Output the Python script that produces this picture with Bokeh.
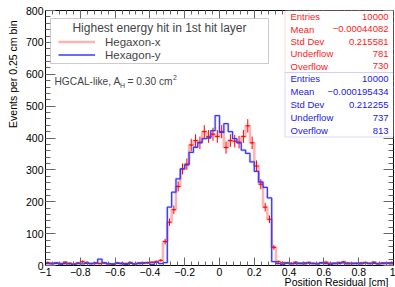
import numpy as np
from bokeh.plotting import figure
from bokeh.models import (Range1d, FixedTicker, LinearAxis, Label, BoxAnnotation,
                          Legend, LegendItem, Title)
from bokeh.embed import file_html
from bokeh.resources import INLINE

# ---------------- data ----------------
x_min, x_max = -1.0, 1.0
bin_width = 0.025

red_name = "Hegaxon-x"
blue_name = "Hexagon-y"

red_counts = [9, 7, 8, 6, 10, 7, 5, 8, 12, 9, 6, 7, 6, 8, 5, 4, 8, 7, 6, 9, 5, 8, 7, 9, 10, 12, 16,
              75, 136, 175, 248, 303, 318, 378, 392, 385, 420, 405, 412, 405, 420, 370, 392, 390,
              387, 405, 438, 385, 312, 255, 183, 145, 57,
              12, 9, 8, 7, 10, 6, 8, 9, 7, 6, 8, 10, 7, 6, 9, 11, 8, 7, 6, 8, 9, 7, 10, 6, 8, 7, 9]

blue_counts = [6, 5, 7, 4, 6, 5, 3, 6, 5, 7, 6, 8, 20, 8, 6, 5, 7, 6, 4, 7, 5, 6, 9, 8, 3, 10, 6, 9,
               183, 230, 272, 303, 316, 355, 371, 386, 398, 400, 423, 470, 418, 445, 420, 398,
               385, 362, 352, 325, 295, 262, 245, 212,
               12, 6, 4, 8, 5, 6, 7, 5, 8, 6, 5, 9, 6, 4, 7, 6, 8, 5, 6, 7, 5, 8, 6, 7, 5, 6, 8, 5]

red_stats = [("Entries", "10000"), ("Mean", "\u22120.00044082"), ("Std Dev", "0.215581"),
             ("Underflow", "781"), ("Overflow", "730")]
blue_stats = [("Entries", "10000"), ("Mean", "\u22120.000195434"), ("Std Dev", "0.212255"),
              ("Underflow", "737"), ("Overflow", "813")]

x_ticks = [-1, -0.8, -0.6, -0.4, -0.2, 0, 0.2, 0.4, 0.6, 0.8, 1]
x_tick_labels = ["\u22121", "\u22120.8", "\u22120.6", "\u22120.4", "\u22120.2", "0",
                 "0.2", "0.4", "0.6", "0.8", "1"]
y_ticks = [0, 100, 200, 300, 400, 500, 600, 700, 800]
y_tick_labels = ["0", "100", "200", "300", "400", "500", "600", "700", "800"]
x_minor = [round(-1 + 0.04 * i, 3) for i in range(51)]
y_minor = [20 * i for i in range(41)]

x_title = "Position Residual [cm]"
y_title = "Events per 0.25 cm bin"
legend_title = "Highest energy hit in 1st hit layer"

# ---------------- figure ----------------
FONT = "Liberation Sans"
RED = "#ff0000"
BLUE = "#3838ff"

p = figure(width=395, height=287, output_backend="svg", toolbar_location=None,
           x_range=Range1d(x_min, x_max), y_range=Range1d(0, 800),
           min_border_left=45, min_border_right=2, min_border_top=10, min_border_bottom=22)
p.grid.visible = False
p.outline_line_color = "#000000"
p.background_fill_color = "white"
p.border_fill_color = "white"

red = np.array(red_counts, dtype=float)
blue = np.array(blue_counts, dtype=float)
edges = x_min + bin_width * np.arange(len(red) + 1)
lefts, rights = edges[:-1], edges[1:]
centers = 0.5 * (lefts + rights)

red_y = np.append(red, red[-1])
blue_y = np.append(blue, blue[-1])

# red histogram (light line + error crosses)
r_step = p.step(edges, red_y, mode="after", line_color=RED, line_alpha=0.3, line_width=2.5)
err = np.sqrt(red)
p.segment(x0=centers, y0=red - err, x1=centers, y1=red + err, line_color=RED, line_width=1)
p.segment(x0=lefts, y0=red, x1=rights, y1=red, line_color=RED, line_width=1)
# blue histogram
p.step(edges, blue_y, mode="after", line_color=BLUE, line_alpha=0.15, line_width=3)
b_step = p.step(edges, blue_y, mode="after", line_color=BLUE, line_width=1.3)

# ---------------- axes ----------------
def style_axis(ax, ticks, minor, labels, tick_in, show_labels=True):
    ax.ticker = FixedTicker(ticks=ticks, minor_ticks=minor)
    ax.axis_line_color = "#000000"
    ax.major_tick_in = tick_in
    ax.major_tick_out = 0
    ax.minor_tick_in = tick_in // 2
    ax.minor_tick_out = 0
    ax.major_tick_line_color = "#666666"
    ax.minor_tick_line_color = "#666666"
    if show_labels:
        ax.major_label_overrides = {t: l for t, l in zip(ticks, labels)}
        ax.major_label_text_font = FONT
        ax.major_label_text_font_size = "10.5px"
        ax.major_label_text_color = "#000000"
        ax.major_label_standoff = 2
    else:
        ax.major_label_text_font_size = "0px"
        ax.major_label_standoff = 0

xa = p.xaxis[0]
ya = p.yaxis[0]
style_axis(xa, x_ticks, x_minor, x_tick_labels, 8)
style_axis(ya, y_ticks, y_minor, y_tick_labels, 10)
top = LinearAxis()
style_axis(top, x_ticks, x_minor, x_tick_labels, 8, show_labels=False)
p.add_layout(top, "above")
right = LinearAxis()
style_axis(right, y_ticks, y_minor, y_tick_labels, 10, show_labels=False)
p.add_layout(right, "right")

# axis titles (right / top aligned, as in ROOT)
p.add_layout(Title(text=x_title, align="right", offset=5, standoff=-10,
                   text_font=FONT, text_font_size="10.5px", text_font_style="normal",
                   text_color="#000000"), "below")
p.add_layout(Title(text=y_title, align="right", offset=10, standoff=8,
                   text_font=FONT, text_font_size="10.5px", text_font_style="normal",
                   text_color="#000000"), "left")

# ---------------- legend ----------------
p.add_layout(BoxAnnotation(left=5, right=223, top=247, bottom=202,
                           left_units="screen", right_units="screen",
                           top_units="screen", bottom_units="screen",
                           fill_color="white", fill_alpha=1.0,
                           line_color="#555555", line_width=1))
p.add_layout(Label(x=114, y=238, x_units="screen", y_units="screen", text=legend_title,
                   text_align="center", text_baseline="middle", text_font=FONT,
                   text_font_size="12px"))
legend = Legend(items=[LegendItem(label=red_name, renderers=[r_step]),
                       LegendItem(label=blue_name, renderers=[b_step])],
                location=(13, 204), orientation="vertical",
                glyph_width=37, glyph_height=13, label_height=13, spacing=0,
                label_standoff=10, padding=0, margin=0,
                border_line_color=None, background_fill_alpha=0,
                label_text_font=FONT, label_text_font_size="11.5px",
                label_text_baseline="middle")
p.add_layout(legend, "center")

p.add_layout(Label(x=9, y=184, x_units="screen", y_units="screen",
                   text="HGCAL-like, A", text_baseline="middle",
                   text_font=FONT, text_font_size="10.2px"))
p.add_layout(Label(x=74.5, y=180.5, x_units="screen", y_units="screen",
                   text="H", text_baseline="middle",
                   text_font=FONT, text_font_size="7px"))
p.add_layout(Label(x=82, y=184, x_units="screen", y_units="screen",
                   text="= 0.30 cm", text_baseline="middle",
                   text_font=FONT, text_font_size="10.2px"))
p.add_layout(Label(x=127.5, y=188.5, x_units="screen", y_units="screen",
                   text="2", text_baseline="middle",
                   text_font=FONT, text_font_size="7px"))

# ---------------- stats boxes ----------------
def stats_box(rows, color, border, top_y, bottom_y):
    p.add_layout(BoxAnnotation(left=239.5, right=348, top=top_y, bottom=bottom_y,
                               left_units="screen", right_units="screen",
                               top_units="screen", bottom_units="screen",
                               fill_color="white", fill_alpha=1.0,
                               line_color=border, line_width=1))
    step = (top_y - bottom_y) / len(rows)
    for k, (name, val) in enumerate(rows):
        yy = top_y - step * (k + 0.5)
        p.add_layout(Label(x=245, y=yy, x_units="screen", y_units="screen", text=name,
                           text_baseline="middle", text_color=color,
                           text_font=FONT, text_font_size="9.5px"))
        p.add_layout(Label(x=343, y=yy, x_units="screen", y_units="screen", text=val,
                           text_align="right", text_baseline="middle", text_color=color,
                           text_font=FONT, text_font_size="9.5px"))

stats_box(red_stats, "#ff1a1a", "#ff8080", 255, 193)
stats_box(blue_stats, "#2020ee", "#8080ff", 193, 128.5)

open("out.html", "w").write(file_html(p, INLINE))
